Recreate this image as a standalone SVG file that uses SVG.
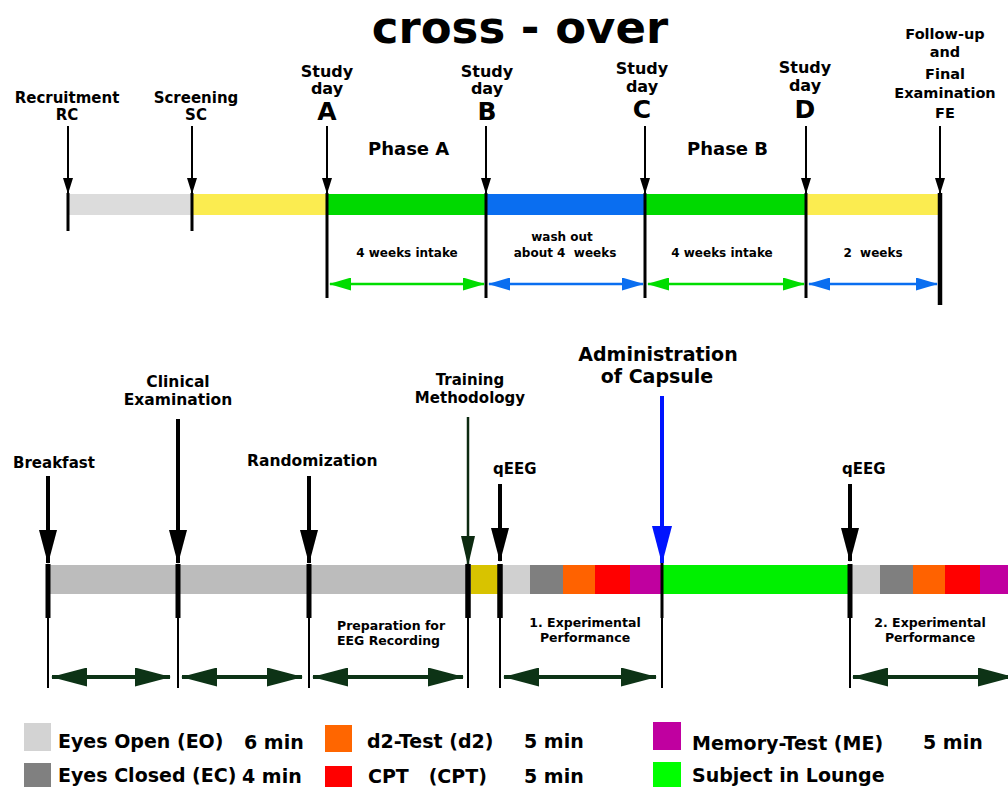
<svg xmlns="http://www.w3.org/2000/svg" width="1008" height="787" viewBox="0 0 1008 787">
<style>
text{font-family:"DejaVu Sans",Verdana,sans-serif;font-weight:bold;fill:#000;white-space:pre}
.c{text-anchor:middle}
.t15{font-size:15px}
.t12{font-size:12px}
.lg{font-size:19px}
.vl{stroke:#000;stroke-width:3}
.tk{stroke:#000;stroke-width:5}
.tn{stroke:#000;stroke-width:2}
.sa{stroke:#000;stroke-width:2;marker-end:url(#sh)}
.ba{stroke:#000;stroke-width:4;marker-end:url(#bh)}
.ga{stroke:#00dd00;stroke-width:2.5;marker-start:url(#gh);marker-end:url(#gh)}
.bla{stroke:#0a6ef0;stroke-width:2.5;marker-start:url(#blh);marker-end:url(#blh)}
.da{stroke:#0d3316;stroke-width:4;marker-start:url(#dh);marker-end:url(#dh)}
</style>
<defs>
<marker id="sh" markerUnits="userSpaceOnUse" viewBox="0 0 16 10" refX="15" refY="5" markerWidth="16" markerHeight="10" orient="auto"><path d="M0,0L16,5L0,10z" fill="#000"/></marker>
<marker id="bh" markerUnits="userSpaceOnUse" viewBox="0 0 34 18" refX="33" refY="9" markerWidth="34" markerHeight="18" orient="auto"><path d="M0,0L34,9L0,18z" fill="#000"/></marker>
<marker id="trh" markerUnits="userSpaceOnUse" viewBox="0 0 30 14" refX="29" refY="7" markerWidth="30" markerHeight="14" orient="auto"><path d="M0,0L30,7L0,14z" fill="#0c2a10"/></marker>
<marker id="adh" markerUnits="userSpaceOnUse" viewBox="0 0 38 20" refX="37" refY="10" markerWidth="38" markerHeight="20" orient="auto"><path d="M0,0L38,10L0,20z" fill="#0014ff"/></marker>
<marker id="gh" markerUnits="userSpaceOnUse" viewBox="0 0 22 13" refX="21" refY="6.5" markerWidth="22" markerHeight="13" orient="auto-start-reverse"><path d="M0,0L22,6.5L0,13z" fill="#00dd00"/></marker>
<marker id="blh" markerUnits="userSpaceOnUse" viewBox="0 0 22 13" refX="21" refY="6.5" markerWidth="22" markerHeight="13" orient="auto-start-reverse"><path d="M0,0L22,6.5L0,13z" fill="#0a6ef0"/></marker>
<marker id="dh" markerUnits="userSpaceOnUse" viewBox="0 0 36 19" refX="35" refY="9.5" markerWidth="36" markerHeight="19" orient="auto-start-reverse"><path d="M0,0L36,9.5L0,19z" fill="#0d3316"/></marker>
</defs>
<rect width="1008" height="787" fill="#fff"/>
<text id="title" class="c" x="520" y="43" style="font-size:45px">cross - over</text>

<!-- top timeline bar -->
<g id="top-bar">
<rect x="68" y="194" width="123" height="21" fill="#dcdcdc"/>
<rect x="191" y="194" width="136" height="21" fill="#fbec50"/>
<rect x="327" y="194" width="159" height="21" fill="#00d900"/>
<rect x="486" y="194" width="159" height="21" fill="#0a6ef0"/>
<rect x="645" y="194" width="161" height="21" fill="#00d900"/>
<rect x="806" y="194" width="134" height="21" fill="#fbec50"/>
</g>

<g id="node-RC"><text class="c t15" x="67" y="103">Recruitment</text><text class="c t15" x="67" y="120">RC</text></g>
<g id="node-SC"><text class="c t15" x="196" y="103">Screening</text><text class="c t15" x="196" y="120">SC</text></g>
<g id="node-A"><text class="c" x="327" y="77" style="font-size:16px">Study</text><text class="c" x="327" y="94" style="font-size:16px">day</text><text class="c" x="327" y="120" style="font-size:25px">A</text></g>
<g id="node-B"><text class="c" x="487" y="77" style="font-size:16px">Study</text><text class="c" x="487" y="94" style="font-size:16px">day</text><text class="c" x="487" y="120" style="font-size:25px">B</text></g>
<g id="node-C"><text class="c" x="642" y="74" style="font-size:16px">Study</text><text class="c" x="642" y="92" style="font-size:16px">day</text><text class="c" x="642" y="118" style="font-size:25px">C</text></g>
<g id="node-D"><text class="c" x="805" y="73" style="font-size:16px">Study</text><text class="c" x="805" y="91" style="font-size:16px">day</text><text class="c" x="805" y="118" style="font-size:25px">D</text></g>
<g id="node-FE" style="font-size:14.5px"><text class="c" x="945" y="39">Follow-up</text><text class="c" x="945" y="57">and</text><text class="c" x="945" y="79">Final</text><text class="c" x="945" y="98">Examination</text><text class="c" x="945" y="118">FE</text></g>
<g id="phase-A"><text x="368" y="155" style="font-size:18px">Phase A</text></g>
<g id="phase-B"><text x="687" y="155" style="font-size:18px">Phase B</text></g>
<g id="top-durations">
<text class="c t12" x="407" y="257">4 weeks intake</text>
<text class="c t12" x="562" y="241">wash out</text>
<text class="c t12" x="565" y="257">about 4  weeks</text>
<text class="c t12" x="722" y="257">4 weeks intake</text>
<text class="c t12" x="873" y="257">2  weeks</text>
</g>

<g id="top-connectors">
<line class="sa" x1="68" y1="126" x2="68" y2="193"/>
<line class="vl" x1="68" y1="193" x2="68" y2="231"/>
<line class="sa" x1="192" y1="126" x2="192" y2="193"/>
<line class="vl" x1="192" y1="193" x2="192" y2="231"/>
<line class="sa" x1="327" y1="126" x2="327" y2="193"/>
<line class="vl" x1="327" y1="193" x2="327" y2="298"/>
<line class="sa" x1="486" y1="126" x2="486" y2="193"/>
<line class="vl" x1="486" y1="193" x2="486" y2="298"/>
<line class="sa" x1="645" y1="126" x2="645" y2="193"/>
<line class="vl" x1="645" y1="193" x2="645" y2="298"/>
<line class="sa" x1="806" y1="126" x2="806" y2="193"/>
<line class="vl" x1="806" y1="193" x2="806" y2="298"/>
<line class="sa" x1="940" y1="126" x2="940" y2="193"/>
<line x1="940" y1="193" x2="940" y2="305" stroke="#000" stroke-width="4.5"/>
<line class="ga" x1="330" y1="284" x2="484" y2="284"/>
<line class="bla" x1="489" y1="284" x2="643" y2="284"/>
<line class="ga" x1="648" y1="284" x2="804" y2="284"/>
<line class="bla" x1="809" y1="284" x2="937" y2="284"/>
</g>

<!-- bottom timeline bar -->
<g id="bottom-bar">
<rect x="48" y="565" width="423" height="29" fill="#bcbcbc"/>
<rect x="471" y="565" width="29" height="29" fill="#d8c300"/>
<rect x="500" y="565" width="30" height="29" fill="#d0d0d0"/>
<rect x="530" y="565" width="33" height="29" fill="#7f7f7f"/>
<rect x="563" y="565" width="32" height="29" fill="#ff6200"/>
<rect x="595" y="565" width="35" height="29" fill="#ff0000"/>
<rect x="630" y="565" width="32" height="29" fill="#c0009f"/>
<rect x="662" y="565" width="188" height="29" fill="#00f000"/>
<rect x="850" y="565" width="30" height="29" fill="#d0d0d0"/>
<rect x="880" y="565" width="33" height="29" fill="#7f7f7f"/>
<rect x="913" y="565" width="32" height="29" fill="#ff6200"/>
<rect x="945" y="565" width="35" height="29" fill="#ff0000"/>
<rect x="980" y="565" width="28" height="29" fill="#c0009f"/>
</g>

<g id="node-breakfast"><text class="t15" x="13" y="468">Breakfast</text></g>
<g id="node-clinical" style="font-size:15.5px"><text class="c" x="178" y="387">Clinical</text><text class="c" x="178" y="405">Examination</text></g>
<g id="node-randomization"><text x="247" y="466" style="font-size:15.5px">Randomization</text></g>
<g id="node-training"><text class="c t15" x="470" y="385">Training</text><text class="c t15" x="470" y="403">Methodology</text></g>
<g id="node-qeeg1"><text class="t15" x="493" y="474">qEEG</text></g>
<g id="node-admin" style="font-size:19px"><text class="c" x="658" y="361">Administration</text><text class="c" x="657" y="383">of Capsule</text></g>
<g id="node-qeeg2"><text class="t15" x="842" y="474">qEEG</text></g>
<g id="node-prep" style="font-size:12.5px"><text x="337" y="630">Preparation for</text><text x="337" y="645">EEG Recording</text></g>
<g id="node-exp1" style="font-size:12.5px"><text class="c" x="585" y="627">1. Experimental</text><text class="c" x="585" y="642">Performance</text></g>
<g id="node-exp2" style="font-size:12.5px"><text class="c" x="930" y="627">2. Experimental</text><text class="c" x="930" y="642">Performance</text></g>

<g id="bottom-connectors">
<line class="ba" x1="48" y1="476" x2="48" y2="563"/>
<line class="ba" x1="178" y1="419" x2="178" y2="563"/>
<line class="ba" x1="309" y1="476" x2="309" y2="563"/>
<line x1="468" y1="417" x2="468" y2="565" stroke="#0c2a10" stroke-width="2.5" marker-end="url(#trh)"/>
<line class="ba" x1="500" y1="484" x2="500" y2="561"/>
<line x1="662" y1="396" x2="662" y2="563" stroke="#0014ff" stroke-width="4" marker-end="url(#adh)"/>
<line class="ba" x1="850" y1="484" x2="850" y2="561"/>
<line class="tk" x1="48" y1="564" x2="48" y2="618"/>
<line class="tk" x1="178" y1="564" x2="178" y2="618"/>
<line class="tk" x1="309" y1="564" x2="309" y2="618"/>
<line class="tk" x1="468" y1="564" x2="468" y2="618" style="stroke-width:5.5"/>
<line class="tk" x1="500" y1="564" x2="500" y2="618" style="stroke-width:5.5"/>
<line class="tk" x1="850" y1="564" x2="850" y2="618"/>
<line x1="662" y1="563" x2="662" y2="618" stroke="#000" stroke-width="3"/>
<line class="tn" x1="48" y1="618" x2="48" y2="688"/>
<line class="tn" x1="178" y1="618" x2="178" y2="688"/>
<line class="tn" x1="309" y1="618" x2="309" y2="688"/>
<line class="tn" x1="468" y1="618" x2="468" y2="688"/>
<line class="tn" x1="500" y1="618" x2="500" y2="688"/>
<line class="tn" x1="662" y1="618" x2="662" y2="688"/>
<line class="tn" x1="850" y1="618" x2="850" y2="688"/>
<line class="da" x1="52" y1="677" x2="170" y2="677"/>
<line class="da" x1="182" y1="677" x2="302" y2="677"/>
<line class="da" x1="313" y1="677" x2="463" y2="677"/>
<line class="da" x1="504" y1="677" x2="656" y2="677"/>
<line class="da" x1="853" y1="677" x2="1013" y2="677"/>
</g>

<g id="legend">
<g id="legend-eo"><rect x="24" y="723" width="27" height="28" fill="#d3d3d3"/><text class="lg" x="58" y="748">Eyes Open (EO)</text><text class="lg" x="244" y="749">6 min</text></g>
<g id="legend-ec"><rect x="24" y="763" width="27" height="28" fill="#808080"/><text class="lg" x="58" y="782">Eyes Closed (EC)</text><text class="lg" x="242" y="783">4 min</text></g>
<g id="legend-d2"><rect x="325" y="725" width="27" height="27" fill="#ff6600"/><text class="lg" x="367" y="748">d2-Test (d2)</text><text class="lg" x="524" y="748">5 min</text></g>
<g id="legend-cpt"><rect x="325" y="766" width="27" height="27" fill="#ff0000"/><text class="lg" x="368" y="783">CPT   (CPT)</text><text class="lg" x="524" y="783">5 min</text></g>
<g id="legend-me"><rect x="653" y="722" width="28" height="28" fill="#c000a0"/><text class="lg" x="692" y="750">Memory-Test (ME)</text><text class="lg" x="923" y="749">5 min</text></g>
<g id="legend-lounge"><rect x="653" y="762" width="28" height="28" fill="#00ff00"/><text class="lg" x="692" y="782">Subject in Lounge</text></g>
</g>
</svg>
